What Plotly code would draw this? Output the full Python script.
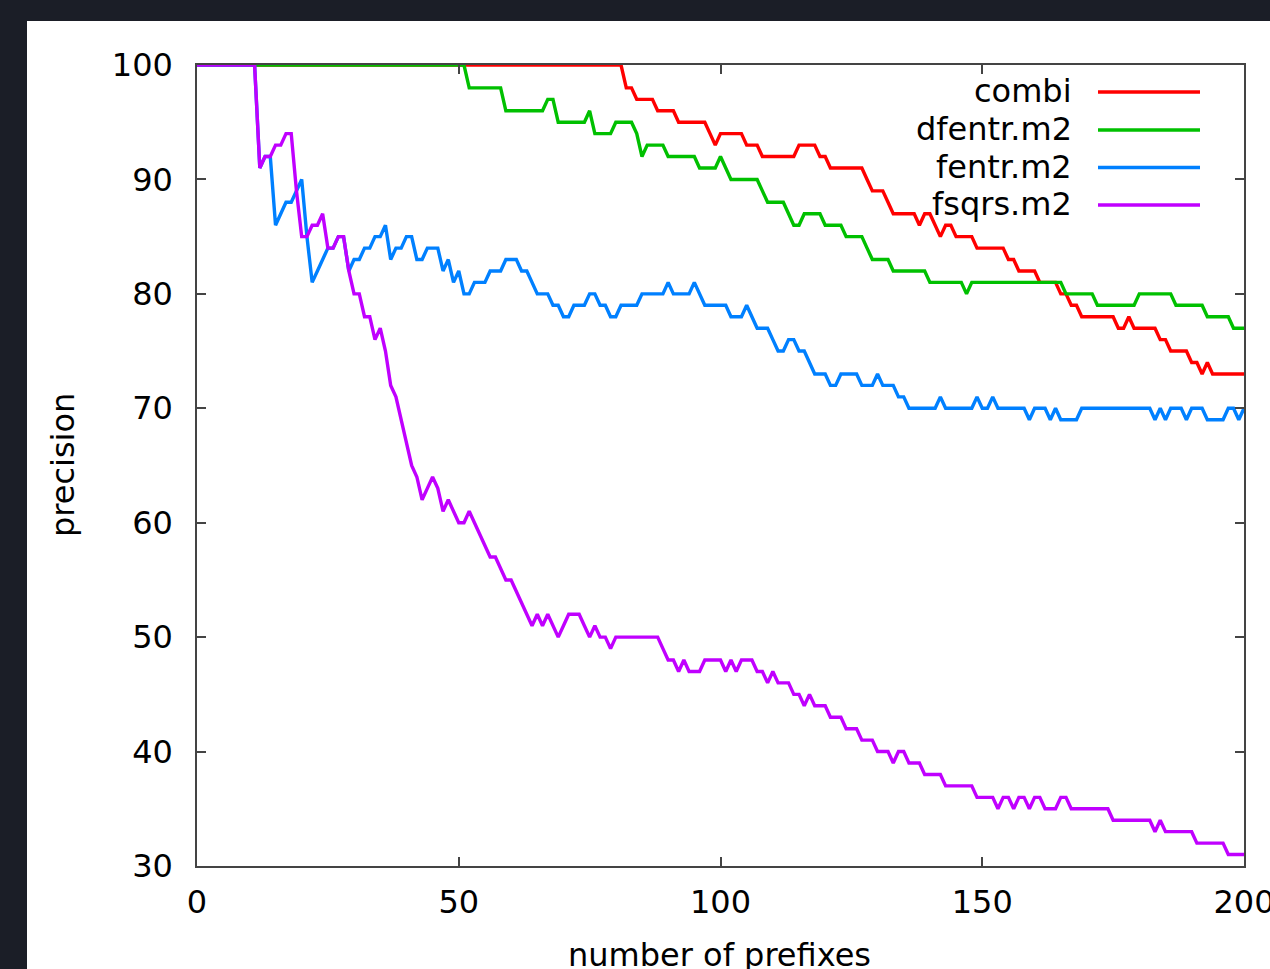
import plotly.graph_objects as go

# number of prefixes (x)
n_prefixes = list(range(0, 201))

combi = [
    100, 100, 100, 100, 100, 100, 100, 100, 100, 100,
    100, 100, 100, 100, 100, 100, 100, 100, 100, 100,
    100, 100, 100, 100, 100, 100, 100, 100, 100, 100,
    100, 100, 100, 100, 100, 100, 100, 100, 100, 100,
    100, 100, 100, 100, 100, 100, 100, 100, 100, 100,
    100, 100, 100, 100, 100, 100, 100, 100, 100, 100,
    100, 100, 100, 100, 100, 100, 100, 100, 100, 100,
    100, 100, 100, 100, 100, 100, 100, 100, 100, 100,
    100, 100, 98, 98, 97, 97, 97, 97, 96, 96,
    96, 96, 95, 95, 95, 95, 95, 95, 94, 93,
    94, 94, 94, 94, 94, 93, 93, 93, 92, 92,
    92, 92, 92, 92, 92, 93, 93, 93, 93, 92,
    92, 91, 91, 91, 91, 91, 91, 91, 90, 89,
    89, 89, 88, 87, 87, 87, 87, 87, 86, 87,
    87, 86, 85, 86, 86, 85, 85, 85, 85, 84,
    84, 84, 84, 84, 84, 83, 83, 82, 82, 82,
    82, 81, 81, 81, 81, 80, 80, 79, 79, 78,
    78, 78, 78, 78, 78, 78, 77, 77, 78, 77,
    77, 77, 77, 77, 76, 76, 75, 75, 75, 75,
    74, 74, 73, 74, 73, 73, 73, 73, 73, 73,
    73,
]

dfentr_m2 = [
    100, 100, 100, 100, 100, 100, 100, 100, 100, 100,
    100, 100, 100, 100, 100, 100, 100, 100, 100, 100,
    100, 100, 100, 100, 100, 100, 100, 100, 100, 100,
    100, 100, 100, 100, 100, 100, 100, 100, 100, 100,
    100, 100, 100, 100, 100, 100, 100, 100, 100, 100,
    100, 100, 98, 98, 98, 98, 98, 98, 98, 96,
    96, 96, 96, 96, 96, 96, 96, 97, 97, 95,
    95, 95, 95, 95, 95, 96, 94, 94, 94, 94,
    95, 95, 95, 95, 94, 92, 93, 93, 93, 93,
    92, 92, 92, 92, 92, 92, 91, 91, 91, 91,
    92, 91, 90, 90, 90, 90, 90, 90, 89, 88,
    88, 88, 88, 87, 86, 86, 87, 87, 87, 87,
    86, 86, 86, 86, 85, 85, 85, 85, 84, 83,
    83, 83, 83, 82, 82, 82, 82, 82, 82, 82,
    81, 81, 81, 81, 81, 81, 81, 80, 81, 81,
    81, 81, 81, 81, 81, 81, 81, 81, 81, 81,
    81, 81, 81, 81, 81, 81, 80, 80, 80, 80,
    80, 80, 79, 79, 79, 79, 79, 79, 79, 79,
    80, 80, 80, 80, 80, 80, 80, 79, 79, 79,
    79, 79, 79, 78, 78, 78, 78, 78, 77, 77,
    77,
]

fentr_m2 = [
    100, 100, 100, 100, 100, 100, 100, 100, 100, 100,
    100, 100, 91, 92, 92, 86, 87, 88, 88, 89,
    90, 85, 81, 82, 83, 84, 84, 85, 85, 82,
    83, 83, 84, 84, 85, 85, 86, 83, 84, 84,
    85, 85, 83, 83, 84, 84, 84, 82, 83, 81,
    82, 80, 80, 81, 81, 81, 82, 82, 82, 83,
    83, 83, 82, 82, 81, 80, 80, 80, 79, 79,
    78, 78, 79, 79, 79, 80, 80, 79, 79, 78,
    78, 79, 79, 79, 79, 80, 80, 80, 80, 80,
    81, 80, 80, 80, 80, 81, 80, 79, 79, 79,
    79, 79, 78, 78, 78, 79, 78, 77, 77, 77,
    76, 75, 75, 76, 76, 75, 75, 74, 73, 73,
    73, 72, 72, 73, 73, 73, 73, 72, 72, 72,
    73, 72, 72, 72, 71, 71, 70, 70, 70, 70,
    70, 70, 71, 70, 70, 70, 70, 70, 70, 71,
    70, 70, 71, 70, 70, 70, 70, 70, 70, 69,
    70, 70, 70, 69, 70, 69, 69, 69, 69, 70,
    70, 70, 70, 70, 70, 70, 70, 70, 70, 70,
    70, 70, 70, 69, 70, 69, 70, 70, 70, 69,
    70, 70, 70, 69, 69, 69, 69, 70, 70, 69,
    70,
]

fsqrs_m2 = [
    100, 100, 100, 100, 100, 100, 100, 100, 100, 100,
    100, 100, 91, 92, 92, 93, 93, 94, 94, 89,
    85, 85, 86, 86, 87, 84, 84, 85, 85, 82,
    80, 80, 78, 78, 76, 77, 75, 72, 71, 69,
    67, 65, 64, 62, 63, 64, 63, 61, 62, 61,
    60, 60, 61, 60, 59, 58, 57, 57, 56, 55,
    55, 54, 53, 52, 51, 52, 51, 52, 51, 50,
    51, 52, 52, 52, 51, 50, 51, 50, 50, 49,
    50, 50, 50, 50, 50, 50, 50, 50, 50, 49,
    48, 48, 47, 48, 47, 47, 47, 48, 48, 48,
    48, 47, 48, 47, 48, 48, 48, 47, 47, 46,
    47, 46, 46, 46, 45, 45, 44, 45, 44, 44,
    44, 43, 43, 43, 42, 42, 42, 41, 41, 41,
    40, 40, 40, 39, 40, 40, 39, 39, 39, 38,
    38, 38, 38, 37, 37, 37, 37, 37, 37, 36,
    36, 36, 36, 35, 36, 36, 35, 36, 36, 35,
    36, 36, 35, 35, 35, 36, 36, 35, 35, 35,
    35, 35, 35, 35, 35, 34, 34, 34, 34, 34,
    34, 34, 34, 33, 34, 33, 33, 33, 33, 33,
    33, 32, 32, 32, 32, 32, 32, 31, 31, 31,
    31,
]

series_names = ["combi", "dfentr.m2", "fentr.m2", "fsqrs.m2"]
series_values = [combi, dfentr_m2, fentr_m2, fsqrs_m2]
series_colors = ["#ff0000", "#00c000", "#0080ff", "#c000ff"]

x_ticks = [0, 50, 100, 150, 200]
y_ticks = [30, 40, 50, 60, 70, 80, 90, 100]

FONT = "DejaVu Sans"
FS = 32

W, H = 1270, 969
L, R, T, B = 197, 26, 65, 103
pw, ph = W - L - R, H - T - B


def px(xp):
    return (xp - L) / pw


def py(yp):
    return (H - B - yp) / ph


fig = go.Figure()
for name, vals, col in zip(series_names, series_values, series_colors):
    fig.add_trace(go.Scatter(
        x=n_prefixes, y=vals, mode="lines", name=name,
        line=dict(color=col, width=3.4), showlegend=False,
    ))

axis_common = dict(
    showgrid=False, zeroline=False, showline=True, mirror="ticks",
    linecolor="#444444", linewidth=1.5,
    ticks="inside", ticklen=9, tickwidth=1.5, tickcolor="#444444",
    tickfont=dict(family=FONT, size=FS, color="black"),
    automargin=False, ticklabeloverflow="allow",
)

fig.update_layout(
    width=W, height=H,
    margin=dict(l=L, r=R, t=T, b=B, pad=0),
    paper_bgcolor="#1b1e27",
    plot_bgcolor="white",
    font=dict(family=FONT, size=FS, color="black"),
    xaxis=dict(range=[0, 200], tickvals=x_ticks, ticklabelstandoff=7, **axis_common),
    yaxis=dict(range=[30, 100], tickvals=y_ticks, ticklabelstandoff=16, **axis_common),
    showlegend=False,
)

# white chart card
fig.add_shape(type="rect", xref="paper", yref="paper", layer="below",
              x0=px(27), x1=px(1300), y0=py(1000), y1=py(21),
              fillcolor="white", line=dict(width=0))

# axis titles
fig.add_annotation(text="precision", xref="paper", yref="paper",
                   x=px(63), y=py(465), textangle=-90, showarrow=False,
                   xanchor="center", yanchor="middle",
                   font=dict(family=FONT, size=FS, color="black"))
fig.add_annotation(text="number of prefixes", xref="paper", yref="paper",
                   x=px(719), y=py(955), showarrow=False,
                   xanchor="center", yanchor="middle",
                   font=dict(family=FONT, size=FS, color="black"))

# gnuplot-style key (text then line sample)
row_y = [92, 130, 167.5, 205]
for name, col, ry in zip(series_names, series_colors, row_y):
    fig.add_annotation(text=name, xref="paper", yref="paper",
                       x=px(1074), y=py(ry - 1), showarrow=False,
                       xanchor="right", yanchor="middle",
                       font=dict(family=FONT, size=FS, color="black"))
    fig.add_shape(type="line", xref="paper", yref="paper",
                  x0=px(1098), x1=px(1200), y0=py(ry), y1=py(ry),
                  line=dict(color=col, width=3.4))

fig.write_html(
    "out.html",
    config={"displayModeBar": False},
    post_script="document.body.style.margin='0';document.body.style.backgroundColor='#1b1e27';document.body.style.overflow='hidden';",
)
